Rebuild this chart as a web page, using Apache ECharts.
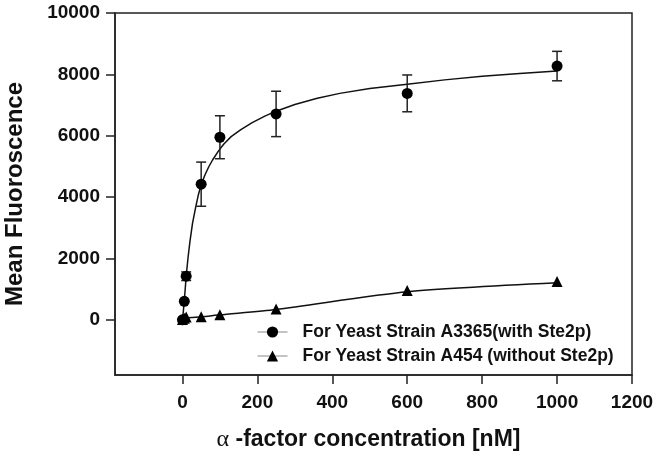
<!DOCTYPE html>
<html>
<head>
<meta charset="utf-8">
<script src="https://cdn.jsdelivr.net/npm/echarts@6/dist/echarts.min.js"></script>
<style>html,body{margin:0;padding:0;background:#fff;}#c{width:662px;height:457px;}</style>
</head>
<body>
<div id="c"></div>
<script>
// ---- data ----
const nameA = 'For Yeast Strain A3365(with Ste2p)';
const nameB = 'For Yeast Strain A454 (without Ste2p)';

const concA = [0, 5, 10, 50, 100, 250, 600, 1000];
const fluorA = [0, 600, 1420, 4420, 5950, 6710, 7380, 8270];
const errA = [0, 0, 140, 720, 700, 740, 600, 480];

const concB = [0, 5, 10, 50, 100, 250, 600, 1000];
const fluorB = [10, 50, 90, 100, 165, 348, 954, 1248];

// fitted curves
const curveAx = [0, 2, 5, 10, 15, 20, 27, 35, 42, 50, 60, 70, 80, 95, 110, 130, 155, 185, 220, 250, 300, 360, 420, 500, 600, 700, 800, 900, 1000];
const curveAy = [0, 220, 620, 1420, 2030, 2550, 3150, 3650, 4050, 4400, 4720, 4980, 5200, 5480, 5720, 5970, 6190, 6420, 6640, 6800, 7020, 7220, 7380, 7540, 7680, 7820, 7940, 8030, 8110];
const curveBx = [0, 10, 50, 100, 250, 600, 1000];
const curveBy = [0, 60, 95, 160, 336, 912, 1205];

const xTicks = [0, 200, 400, 600, 800, 1000, 1200];
const yTicks = [0, 2000, 4000, 6000, 8000, 10000];

// ---- chart ----
const FONT = '"Liberation Sans", Arial, sans-serif';
const zip = (a, b) => a.map((v, i) => [v, b[i]]);
const errData = concA.map((x, i) => [x, fluorA[i], errA[i]]);

const chart = echarts.init(document.getElementById('c'), null, {renderer: 'canvas'});
chart.setOption({
  animation: false,
  backgroundColor: '#fff',
  grid: {left: 115, right: 30, top: 13, bottom: 82, show: true, borderColor: '#222', borderWidth: 1.5,
         containLabel: false, outerBoundsMode: 'none'},
  legend: {
    data: [nameA, nameB],
    orient: 'vertical',
    left: 252, top: 318,
    itemWidth: 30, itemHeight: 14, itemGap: 6,
    lineStyle: {color: '#888', width: 1, opacity: 1},
    textStyle: {fontFamily: FONT, fontWeight: 'bold', fontSize: 17.5, color: '#111', lineHeight: 18, padding: [0, 0, 0, 10]}
  },
  xAxis: {
    type: 'value', min: -180, max: 1200,
    splitLine: {show: false},
    axisLine: {show: true, onZero: false, lineStyle: {color: '#222', width: 1.5}},
    axisTick: {show: true, length: 9, customValues: xTicks, lineStyle: {color: '#222', width: 1.5}},
    axisLabel: {customValues: xTicks, formatter: v => String(v), margin: 18, fontFamily: FONT, fontWeight: 'bold', fontSize: 19, color: '#111'},
    name: '{a|α} -factor concentration [nM]',
    nameLocation: 'middle', nameGap: 53,
    nameTextStyle: {fontFamily: FONT, fontWeight: 'bold', fontSize: 23, color: '#111', padding: [0, 10, 0, 0],
      rich: {a: {fontFamily: '"Liberation Serif", "DejaVu Serif", serif', fontWeight: 'normal', fontSize: 24, color: '#111'}}}
  },
  yAxis: {
    type: 'value', min: -1800, max: 10000,
    splitLine: {show: false},
    axisLine: {show: true, onZero: false, lineStyle: {color: '#222', width: 1.5}},
    axisTick: {show: true, length: 9, customValues: yTicks, lineStyle: {color: '#222', width: 1.5}},
    axisLabel: {customValues: yTicks, formatter: v => String(v), margin: 15, fontFamily: FONT, fontWeight: 'bold', fontSize: 19, color: '#111'},
    name: 'Mean Fluoroscence',
    nameLocation: 'middle', nameGap: 88,
    nameTextStyle: {fontFamily: FONT, fontWeight: 'bold', fontSize: 24, color: '#111'}
  },
  series: [
    {
      name: 'curveA', type: 'line', data: zip(curveAx, curveAy), showSymbol: false,
      smooth: false, z: 2,
      lineStyle: {color: '#111', width: 1.5}, silent: true
    },
    {
      name: 'curveB', type: 'line', data: zip(curveBx, curveBy), showSymbol: false,
      smooth: 0.25, z: 2,
      lineStyle: {color: '#111', width: 1.5}, silent: true
    },
    {
      name: 'errA', type: 'custom', z: 3, data: errData,
      renderItem: function (params, api) {
        const x = api.value(0), y = api.value(1), e = api.value(2);
        if (!e) return null;
        const top = api.coord([x, y + e]);
        const bot = api.coord([x, y - e]);
        const w = 5;
        const st = {stroke: '#222', lineWidth: 1.5};
        return {type: 'group', children: [
          {type: 'line', shape: {x1: top[0], y1: top[1], x2: bot[0], y2: bot[1]}, style: st},
          {type: 'line', shape: {x1: top[0] - w, y1: top[1], x2: top[0] + w, y2: top[1]}, style: st},
          {type: 'line', shape: {x1: bot[0] - w, y1: bot[1], x2: bot[0] + w, y2: bot[1]}, style: st}
        ]};
      }
    },
    {
      name: nameA, type: 'line', data: zip(concA, fluorA), z: 4,
      symbol: 'circle', symbolSize: 11, showAllSymbol: true,
      itemStyle: {color: '#000'}, lineStyle: {width: 0, opacity: 0}
    },
    {
      name: nameB, type: 'line', data: zip(concB, fluorB), z: 4,
      symbol: 'triangle', symbolSize: 11, showAllSymbol: true,
      itemStyle: {color: '#000'}, lineStyle: {width: 0, opacity: 0}
    }
  ]
});
</script>
</body>
</html>
